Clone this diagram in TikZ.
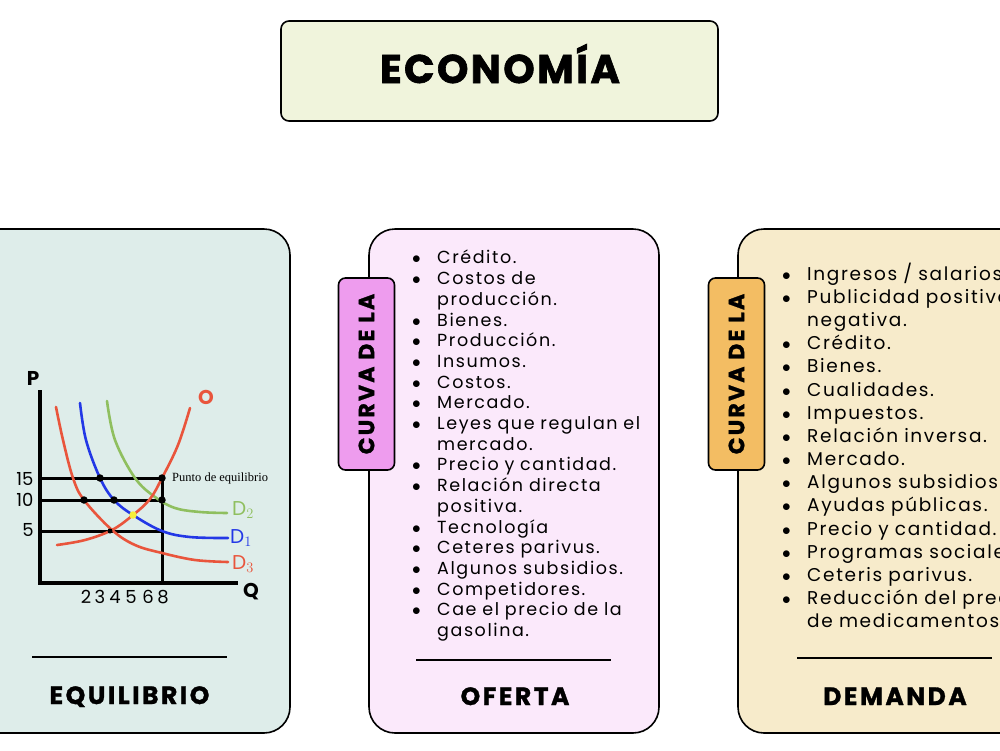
\documentclass[tikz,border=0pt]{standalone}
\usepackage{fontspec}
\setmainfont{Poppins}
\newfontfamily\listfont{Poppins}[LetterSpace=9]
\newfontfamily\headfont{Poppins}[LetterSpace=10, BoldFeatures={FakeBold=1.2}]
\newfontfamily\titlefont{Poppins}[LetterSpace=6, BoldFeatures={FakeBold=1.6}]
\newfontfamily\notefont{Liberation Serif}
\usetikzlibrary{positioning}

\definecolor{titlefill}{HTML}{F0F4DC}
\definecolor{eqfill}{HTML}{DEEDEA}
\definecolor{ofertafill}{HTML}{FBE9FB}
\definecolor{demandafill}{HTML}{F7EBCB}
\definecolor{ofertatab}{HTML}{EE9CEE}
\definecolor{demandatab}{HTML}{F3BD63}
\definecolor{curvered}{HTML}{E9553C}
\definecolor{curveblue}{HTML}{2338E6}
\definecolor{curvegreen}{HTML}{8FBF5F}
\definecolor{eqyellow}{HTML}{F5EE3A}

% one bullet line of a list
\newcommand{\bitem}[1]{\par\noindent\hangindent=23pt\hangafter=1\makebox[23pt][l]{\kern-2pt$\bullet$}#1}

\begin{document}
\begin{tikzpicture}[
    x=1pt, y=-1pt,
    % Style for the three big rounded panels
    panel/.style={draw=black, line width=1.6pt, rounded corners=26pt, minimum height=504pt, inner sep=0pt},
    % Style for the small rotated tabs
    sidetab/.style={draw=black, line width=1.6pt, rounded corners=7pt, minimum width=192pt, minimum height=56pt,
        rotate=90, inner sep=0pt, font=\headfont\bfseries\fontsize{22}{24}\selectfont},
    heading/.style={anchor=base, inner sep=0pt, font=\headfont\bfseries\fontsize{25}{28}\selectfont},
    rule/.style={line width=1.8pt},
    itemlist/.style={anchor=north west, inner sep=0pt, text width=420pt, align=left},
    % Styles for the graph
    axis/.style={line width=4pt},
    level/.style={line width=3pt},
    curve/.style={line width=2.6pt, line cap=round},
    dot/.style={circle, fill=black, inner sep=0pt, minimum size=7.5pt},
    ticklabel/.style={inner sep=0pt, font=\fontsize{18}{18}\selectfont},
    curvelabel/.style={inner sep=0pt, font=\fontsize{20}{20}\selectfont}
]

    % --- 1. Page ---
    \clip (0,0) rectangle (1000,750);
    \fill[white] (0,0) rectangle (1000,750);

    % --- 2. Title ---
    \node[draw=black, line width=1.6pt, fill=titlefill, rounded corners=8pt, minimum width=437pt, minimum height=100pt] (title) at (499.5,71) {};
    \node[anchor=base, inner sep=0pt, font=\titlefont\bfseries\fontsize{40}{48}\selectfont] (titletext) at (500,83) {ECONOMÍA};

    % --- 3. Panels ---
    \node[panel, fill=eqfill, minimum width=340pt] (equilibrio) at (120,481) {};
    \node[panel, fill=ofertafill, minimum width=290pt] (oferta) at (514,481) {};
    \node[panel, fill=demandafill, minimum width=290pt] (demanda) at (883,481) {};

    \node[sidetab, fill=ofertatab] (ofertatab) at (366.5,374) {CURVA DE LA};
    \node[sidetab, fill=demandatab] (demandatab) at (736.5,374) {CURVA DE LA};

    % separators and headings
    \coordinate (eqL) at (32,657);   \coordinate (eqR) at (227,657);
    \coordinate (ofL) at (416,660);  \coordinate (ofR) at (611,660);
    \coordinate (deL) at (797,658);  \coordinate (deR) at (992,658);
    \draw[rule] (eqL) -- (eqR);
    \draw[rule] (ofL) -- (ofR);
    \draw[rule] (deL) -- (deR);

    \node[heading] (eqhead) at (129.5,704) {EQUILIBRIO};
    \node[heading] (ofhead) at (515,705) {OFERTA};
    \node[heading] (dehead) at (895,705) {DEMANDA};

    % --- 4. Lists ---
    \node[itemlist, font=\listfont\fontsize{17.5}{20.7}\selectfont] (ofertalist) at (414,243) {%
        \bitem{\rule{0pt}{18pt}Crédito.}
        \bitem{Costos de\newline producción.}
        \bitem{Bienes.}
        \bitem{Producción.}
        \bitem{Insumos.}
        \bitem{Costos.}
        \bitem{Mercado.}
        \bitem{Leyes que regulan el\newline mercado.}
        \bitem{Precio y cantidad.}
        \bitem{Relación directa\newline positiva.}
        \bitem{Tecnología}
        \bitem{Ceteres parivus.}
        \bitem{Algunos subsidios.}
        \bitem{Competidores.}
        \bitem{Cae el precio de la\newline gasolina.}\par};

    \node[itemlist, font=\listfont\fontsize{18.5}{23.15}\selectfont] (demandalist) at (784,257) {%
        \bitem{\rule{0pt}{19pt}Ingresos / salarios.}
        \bitem{Publicidad positiva o\newline negativa.}
        \bitem{Crédito.}
        \bitem{Bienes.}
        \bitem{Cualidades.}
        \bitem{Impuestos.}
        \bitem{Relación inversa.}
        \bitem{Mercado.}
        \bitem{Algunos subsidios.}
        \bitem{Ayudas públicas.}
        \bitem{Precio y cantidad.}
        \bitem{Programas sociales.}
        \bitem{Ceteris parivus.}
        \bitem{Reducción del precio\newline de medicamentos.}\par};

    % --- 5. Equilibrium graph ---
    \coordinate (origin) at (40,583);
    \coordinate (ptop) at (40,390);
    \coordinate (qend) at (238,583);
    \coordinate (q8) at (162,583);
    \coordinate (p15) at (40,478);
    \coordinate (p10) at (40,500);
    \coordinate (p5) at (40,531);

    \draw[level] (p15) -- (162,478);
    \draw[level] (p10) -- (162,500);
    \draw[level] (p5) -- (162,531);
    \draw[level] (q8) -- (162,478);

    % curves
    \draw[curve, curvered] plot[smooth, tension=0.6] coordinates {(56,407) (63,440) (73,478) (84,500) (112,530) (135,545) (162,553) (195,560) (228,562)};
    \draw[curve, curvegreen] plot[smooth, tension=0.6] coordinates {(107,401) (115,440) (135,478) (155,497) (175,508) (200,512) (227,513)};
    \draw[curve, curveblue] plot[smooth, tension=0.6] coordinates {(80,403) (86,440) (100,478) (114,500) (133,515) (162,531) (190,537) (228,538)};
    \draw[curve, curvered] plot[smooth, tension=0.6] coordinates {(57,545) (85,540) (112,530) (133,515) (150,499) (162,478) (178,445) (190,408)};

    \draw[axis] (ptop) -- (origin) -- (qend);

    \node[dot] (e1) at (100,478) {};
    \node[dot] (e2) at (162,478) {};
    \node[dot] (e3) at (84,500) {};
    \node[dot] (e4) at (114,500) {};
    \node[dot] (e5) at (162,500) {};
    \node[dot, minimum size=5pt] (e6) at (110,531) {};
    \node[circle, fill=eqyellow, inner sep=0pt, minimum size=7.5pt] (eq) at (133,515) {};

    \node[anchor=west, inner sep=0pt, font=\notefont\fontsize{12.5}{12.5}\selectfont] (punto) at (172,478) {Punto de equilibrio};

    % axis and curve labels
    \node[curvelabel, font=\bfseries\fontsize{20}{20}\selectfont] (plabel) at (33,378) {P};
    \node[curvelabel, font=\bfseries\fontsize{20}{20}\selectfont] (qlabel) at (251,592) {Q};
    \node[curvelabel, font=\bfseries\fontsize{20}{20}\selectfont, text=curvered] (olabel) at (206,397) {O};
    \node[curvelabel, text=curvegreen] (d2label) at (243,510) {D$_2$};
    \node[curvelabel, text=curveblue] (d1label) at (241,538) {D$_1$};
    \node[curvelabel, text=curvered] (d3label) at (243,564) {D$_3$};

    \node[ticklabel] (t15) at (25,479) {15};
    \node[ticklabel] (t10) at (25,500) {10};
    \node[ticklabel] (t5) at (28,530) {5};
    \foreach \qx/\ql in {86/2, 100/3, 115/4, 131/5, 148/6, 163/8}
        \node[ticklabel] at (\qx,597) {\ql};

\end{tikzpicture}
\end{document}
